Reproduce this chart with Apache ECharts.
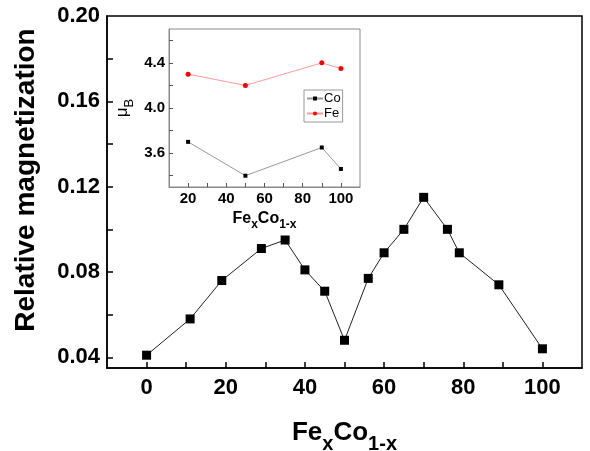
<!DOCTYPE html>
<html><head><meta charset="utf-8">
<script src="https://cdn.jsdelivr.net/npm/echarts@6/dist/echarts.min.js"></script>
<style>html,body{margin:0;padding:0;background:#fff}#c{width:590px;height:451px}</style>
</head><body><div id="c"></div>
<script>
// Main chart data
const mainX = [0, 11, 19, 29, 35, 40, 45, 50, 56, 60, 65, 70, 76, 79, 89, 100];
const mainY = [0.041, 0.058, 0.076, 0.091, 0.095, 0.081, 0.071, 0.048, 0.077, 0.089, 0.100, 0.115, 0.100, 0.089, 0.074, 0.044];
const mainXLabels = [0, 20, 40, 60, 80, 100];
const mainXTicks = [0, 10, 20, 30, 40, 50, 60, 70, 80, 90, 100];
const mainYLabels = [0.04, 0.08, 0.12, 0.16, 0.20];
const mainYTicks = [0.04, 0.06, 0.08, 0.10, 0.12, 0.14, 0.16, 0.18];
// Inset data
const insetX = [20, 50, 90, 100];
const coY = [3.70, 3.40, 3.65, 3.46];
const feY = [4.30, 4.20, 4.40, 4.35];
const insetXLabels = [20, 40, 60, 80, 100];
const insetXTicks = [20, 30, 40, 50, 60, 70, 80, 90, 100];
const insetYLabels = [3.6, 4.0, 4.4];
const insetYTicks = [3.4, 3.6, 3.8, 4.0, 4.2, 4.4, 4.6];

const FF = 'Liberation Sans, Arial, sans-serif';
const zip = (xs, ys) => xs.map((x, i) => [x, ys[i]]);

const chart = echarts.init(document.getElementById('c'), null, {renderer: 'canvas'});

const option = {
  animation: false,
  backgroundColor: '#fff',
  textStyle: {fontFamily: FF},
  grid: [
    {left: 107, right: 8, top: 16, bottom: 83, outerBoundsMode: 'none', containLabel: false, show: true, borderColor: '#000', borderWidth: 1.5, backgroundColor: 'transparent'},
    {left: 169, top: 29, width: 191, height: 158, outerBoundsMode: 'none', containLabel: false, show: true, borderColor: '#8a8a8a', borderWidth: 1, backgroundColor: 'transparent'}
  ],
  legend: {
    data: ['Co', 'Fe'], orient: 'vertical', left: 304, top: 90,
    borderColor: '#999', borderWidth: 1, padding: [2, 2, 2, 2], itemGap: 2,
    itemWidth: 16, itemHeight: 5,
    textStyle: {fontFamily: FF, fontSize: 13, color: '#000', padding: [0, 0, 0, -4]}
  },
  xAxis: [
    {gridIndex: 0, type: 'value', position: 'bottom', min: -10, max: 110, splitLine: {show: false},
      axisLine: {show: true, onZero: false, lineStyle: {color: '#000', width: 1.5}},
      axisTick: {show: true, inside: true, length: 6, lineStyle: {color: '#000', width: 1.5}, customValues: mainXTicks},
      axisLabel: {customValues: mainXLabels, fontFamily: FF, fontSize: 22, fontWeight: 'bold', color: '#000', margin: 9},
      name: '{a|Fe}{s|x}{a|Co}{s|1-x}', nameLocation: 'middle', nameGap: 52, nameMoveOverlap: false,
      nameTextStyle: {rich: {
        a: {fontFamily: FF, fontSize: 26, fontWeight: 'bold', color: '#000', lineHeight: 34, verticalAlign: 'top'},
        s: {fontFamily: FF, fontSize: 20, fontWeight: 'bold', color: '#000', lineHeight: 18, verticalAlign: 'bottom'}
      }}
    },
    {gridIndex: 1, type: 'value', position: 'bottom', min: 10, max: 110, splitLine: {show: false},
      axisLine: {show: true, onZero: false, lineStyle: {color: '#8a8a8a', width: 1}},
      axisTick: {show: true, inside: true, length: 4, lineStyle: {color: '#555', width: 1}, customValues: insetXTicks},
      axisLabel: {customValues: insetXLabels, fontFamily: FF, fontSize: 15, fontWeight: 'bold', color: '#000', margin: 4},
      name: '{a|Fe}{s|x}{a|Co}{s|1-x}', nameLocation: 'middle', nameGap: 24, nameMoveOverlap: false,
      nameTextStyle: {rich: {
        a: {fontFamily: FF, fontSize: 16, fontWeight: 'bold', color: '#000', lineHeight: 20, verticalAlign: 'top'},
        s: {fontFamily: FF, fontSize: 12, fontWeight: 'bold', color: '#000', lineHeight: 12, verticalAlign: 'bottom'}
      }}
    }
  ],
  yAxis: [
    {gridIndex: 0, type: 'value', position: 'left', min: 0.035, max: 0.2, splitLine: {show: false},
      axisLine: {show: true, onZero: false, lineStyle: {color: '#000', width: 1.5}},
      axisTick: {show: true, inside: true, length: 6, lineStyle: {color: '#000', width: 1.5}, customValues: mainYTicks},
      axisLabel: {customValues: mainYLabels, formatter: v => v.toFixed(2), fontFamily: FF, fontSize: 22, fontWeight: 'bold', color: '#000', margin: 7},
      name: 'Relative magnetization', nameLocation: 'middle', nameGap: 67, nameMoveOverlap: false,
      nameTextStyle: {fontFamily: FF, fontSize: 28, fontWeight: 'bold', color: '#000', padding: [0, 0, 0, 24]}
    },
    {gridIndex: 1, type: 'value', position: 'left', min: 3.3, max: 4.7, splitLine: {show: false},
      axisLine: {show: true, onZero: false, lineStyle: {color: '#8a8a8a', width: 1}},
      axisTick: {show: true, inside: true, length: 4, lineStyle: {color: '#555', width: 1}, customValues: insetYTicks},
      axisLabel: {customValues: insetYLabels, formatter: v => v.toFixed(1), fontFamily: FF, fontSize: 15, fontWeight: 'bold', color: '#000', margin: 4},
      name: '{m|μ}{s|B}', nameLocation: 'middle', nameGap: 33, nameMoveOverlap: false,
      nameTextStyle: {rich: {
        m: {fontFamily: FF, fontSize: 17, color: '#000', lineHeight: 22, verticalAlign: 'top'},
        s: {fontFamily: FF, fontSize: 13, color: '#000', lineHeight: 13, verticalAlign: 'bottom'}
      }}
    }
  ],
  series: [
    {type: 'line', xAxisIndex: 0, yAxisIndex: 0, data: zip(mainX, mainY),
     symbol: 'rect', symbolSize: 9, itemStyle: {color: '#000'}, lineStyle: {color: '#222', width: 1}},
    {name: 'Co', type: 'line', xAxisIndex: 1, yAxisIndex: 1, data: zip(insetX, coY),
     symbol: 'rect', symbolSize: 4, itemStyle: {color: '#000'}, lineStyle: {color: '#999', width: 1}},
    {name: 'Fe', type: 'line', xAxisIndex: 1, yAxisIndex: 1, data: zip(insetX, feY),
     symbol: 'circle', symbolSize: 5, itemStyle: {color: '#ff0000'}, lineStyle: {color: '#ff9a9a', width: 1}}
  ]
};
chart.setOption(option);
</script>
</body></html>
